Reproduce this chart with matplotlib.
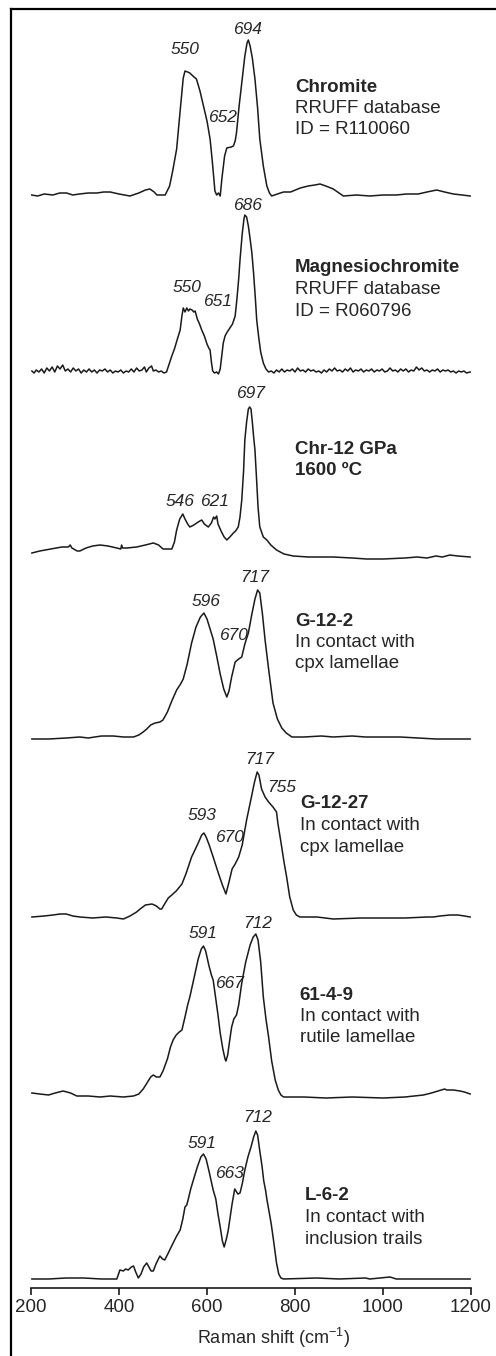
"""stacked Raman spectra of chromite samples."""

import matplotlib
import matplotlib.pyplot as plt
from matplotlib.lines import Line2D

matplotlib.use("Agg")

plt.rcParams["font.family"] = ["Liberation Sans", "DejaVu Sans"]
plt.rcParams["mathtext.fontset"] = "custom"
plt.rcParams["mathtext.rm"] = "Liberation Sans"

# spectra: Raman shift (cm-1) and intensity (arbitrary)
chromite_shift = [201, 215, 230, 250, 265, 281, 295, 310, 330, 350, 365, 380, 400, 425, 445, 460, 470, 480,
                  486, 505, 515, 522, 531, 540, 546, 550, 556, 561, 568, 576, 584, 592, 600, 607, 612, 618,
                  622, 626, 630, 634, 640, 645, 655, 660, 664, 667, 673, 679, 686, 691, 694, 698, 703, 709,
                  715, 720, 728, 736, 742, 747, 760, 774, 790, 812, 830, 845, 857, 870, 887, 900, 910, 940,
                  970, 1000, 1030, 1054, 1080, 1100, 1122, 1140, 1160, 1180, 1198]
chromite_int = [1, 0, 2, 1, 3, 3, 1, 2, 3, 3, 4, 4, 2, 0, 3, 6, 7, 4,
                1, 1, 10, 25, 47, 90, 118, 125, 124, 123, 120, 117, 105, 90, 75, 57, 35, 5,
                1, 3, 0, 18, 40, 48, 49, 50, 55, 63, 90, 113, 140, 153, 156, 150, 138, 117,
                88, 57, 30, 10, 3, 0, 2, 4, 4, 8, 10, 11, 12, 10, 7, 3, 0, 1,
                0, 1, 1, 2, 2, 4, 6, 4, 2, 1, 0]

magnesio_shift = [202, 207, 212, 218, 224, 230, 236, 242, 248, 254, 260, 266, 272, 278, 284, 290, 296, 302,
                  308, 314, 320, 326, 332, 338, 344, 350, 356, 362, 368, 374, 380, 386, 392, 398, 404, 410,
                  416, 422, 428, 434, 440, 446, 452, 458, 462, 468, 474, 478, 484, 490, 496, 502, 508, 514,
                  520, 526, 532, 539, 543, 546, 550, 554, 558, 561, 566, 570, 573, 578, 583, 588, 594, 600,
                  604, 607, 610, 613, 617, 622, 626, 630, 634, 637, 641, 646, 652, 658, 664, 668, 672, 675,
                  680, 684, 686, 690, 694, 698, 702, 706, 710, 713, 718, 722, 728, 734, 740, 746, 752, 758,
                  764, 770, 776, 782, 788, 794, 800, 806, 812, 818, 824, 830, 836, 842, 848, 854, 860, 866,
                  872, 878, 884, 890, 896, 902, 908, 914, 920, 926, 932, 938, 944, 950, 956, 962, 968, 974,
                  980, 986, 992, 998, 1004, 1010, 1016, 1022, 1028, 1034, 1040, 1046, 1052, 1058, 1064, 1070,
                  1076, 1082, 1088, 1094, 1100, 1106, 1112, 1118, 1124, 1130, 1136, 1142, 1148, 1154, 1160,
                  1166, 1172, 1178, 1184, 1190, 1198]
magnesio_int = [3, 1, 4, 2, 5, 1, 6, 3, 7, 2, 8, 5, 9, 3, 5, 2, 6, 3,
                5, 1, 4, 2, 5, 2, 4, 1, 4, 3, 5, 2, 4, 1, 3, 2, 4, 1,
                3, 2, 5, 2, 6, 3, 4, 7, 2, 6, 8, 3, 4, 2, 3, 1, 2, 10,
                18, 25, 34, 44, 58, 66, 62, 66, 63, 65, 64, 62, 63, 55, 50, 44, 38, 30,
                26, 24, 12, 3, 1, 2, 0, 5, 20, 31, 38, 42, 46, 50, 58, 75, 95, 114,
                140, 155, 159, 157, 148, 135, 121, 100, 75, 54, 35, 22, 11, 5, 2, 3, 1, 4,
                2, 5, 2, 4, 3, 5, 2, 6, 3, 4, 2, 5, 3, 4, 2, 3, 1, 4,
                2, 5, 3, 6, 3, 4, 2, 5, 3, 6, 2, 4, 3, 5, 2, 4, 3, 5,
                2, 4, 3, 5, 2, 3, 6, 3, 4, 2, 5, 3, 5, 2, 4, 3,
                7, 4, 6, 3, 4, 2, 4, 3, 5, 2, 4, 3, 4, 2, 3,
                1, 3, 2, 3, 1, 2]

chr12_shift = [202, 220, 245, 270, 285, 289, 293, 305, 311, 325, 340, 357, 375, 395, 404, 406, 408, 418,
               440, 460, 478, 490, 500, 520, 526, 531, 538, 545, 550, 556, 561, 570, 580, 588, 594, 603,
               610, 615, 618, 622, 625, 633, 639, 645, 652, 660, 665, 671, 675, 679, 683, 686, 690, 694,
               697, 700, 703, 706, 709, 713, 716, 720, 728, 736, 745, 758, 775, 796, 830, 887, 930, 963,
               1000, 1050, 1077, 1100, 1120, 1135, 1152, 1170, 1198]
chr12_int = [4, 6, 8, 10, 10, 12, 9, 6, 6, 9, 11, 12, 11, 9, 8, 12, 9, 9,
             10, 12, 14, 12, 8, 8, 15, 27, 38, 43, 38, 33, 30, 32, 35, 37, 33, 30,
             34, 40, 38, 41, 33, 25, 20, 17, 20, 24, 26, 30, 40, 57, 85, 117, 135, 148,
             150, 148, 135, 120, 107, 75, 50, 30, 20, 17, 12, 7, 3, 1, 0, 0, -1, -2,
             -2, -1, 0, -1, 1, 0, 2, 1, 0]

g122_shift = [202, 240, 280, 311, 330, 360, 387, 410, 433, 445, 455, 463, 472, 482, 493, 500, 510, 520,
              531, 540, 546, 555, 565, 575, 585, 593, 600, 607, 614, 622, 630, 638, 645, 650, 656, 664,
              672, 679, 686, 694, 702, 709, 715, 720, 726, 732, 740, 750, 760, 770, 780, 793, 820, 860,
              887, 930, 960, 1000, 1039, 1080, 1120, 1160, 1198]
g122_int = [0, 0, 1, 2, 1, 3, 3, 2, 2, 4, 7, 10, 14, 16, 17, 19, 27, 38,
            49, 55, 60, 75, 96, 112, 122, 126, 120, 110, 100, 83, 65, 50, 42, 48, 62, 77,
            80, 82, 95, 106, 125, 140, 149, 146, 125, 99, 70, 36, 20, 11, 6, 2, 2, 3,
            2, 3, 2, 2, 2, 1, 0, 0, 0]

g1227_shift = [202, 230, 250, 266, 280, 295, 311, 340, 370, 395, 410, 425, 440, 448, 460, 475, 485, 493,
               497, 505, 512, 520, 530, 543, 552, 565, 578, 588, 593, 598, 605, 614, 625, 635, 643, 650,
               657, 664, 672, 680, 690, 700, 708, 714, 718, 724, 732, 740, 750, 758, 761, 768, 775, 781,
               788, 796, 803, 811, 850, 887, 950, 1000, 1050, 1100, 1114, 1130, 1152, 1170, 1185, 1198]
g1227_int = [0, 1, 2, 3, 3, 1, 0, -1, 0, -1, -2, 1, 5, 8, 12, 13, 11, 8,
             8, 14, 19, 22, 26, 33, 43, 60, 72, 82, 84, 80, 72, 60, 45, 32, 23, 35,
             48, 53, 60, 72, 97, 118, 135, 145, 142, 128, 120, 115, 110, 105, 94, 75, 55, 40,
             20, 7, 2, 0, 0, -2, -1, -1, -1, 0, 0, 1, 2, 2, 1, 0]

s6149_shift = [202, 220, 240, 255, 273, 290, 304, 330, 357, 380, 410, 433, 445, 455, 465, 472, 478, 485,
               493, 500, 510, 517, 523, 530, 537, 543, 550, 556, 561, 570, 580, 587, 592, 597, 604, 610,
               614, 620, 625, 630, 636, 641, 643, 647, 652, 656, 661, 667, 672, 679, 688, 698, 705, 711,
               716, 722, 728, 734, 740, 747, 755, 762, 768, 774, 820, 870, 930, 1000, 1050, 1092, 1110,
               1125, 1140, 1145, 1160, 1175, 1185, 1198]
s6149_int = [4, 3, 2, 4, 6, 4, 1, 1, 0, 1, 0, 1, 3, 8, 15, 20, 22, 20,
             20, 26, 38, 50, 57, 62, 65, 67, 80, 92, 100, 118, 138, 148, 151, 146, 132, 122,
             117, 98, 82, 64, 48, 38, 36, 42, 58, 70, 78, 82, 92, 114, 135, 152, 160, 163,
             157, 135, 100, 78, 60, 36, 17, 7, 2, 0, 0, -1, 0, -1, 0, 2, 4,
             6, 8, 7, 7, 6, 5, 3]

l62_shift = [202, 240, 280, 320, 360, 395, 399, 402, 410, 415, 421, 428, 433, 438, 444, 450, 456, 463,
             468, 473, 478, 484, 493, 499, 504, 512, 523, 531, 539, 545, 550, 554, 557, 563, 569, 578,
             586, 592, 598, 605, 614, 620, 625, 630, 635, 639, 644, 648, 652, 657, 663, 666, 670, 675,
             680, 686, 693, 700, 706, 711, 715, 720, 725, 729, 733, 736, 740, 746, 752, 758, 763, 768,
             774, 850, 900, 960, 970, 1016, 1030, 1100, 1198]
l62_int = [0, 0, 1, 1, 0, 0, 5, 9, 8, 10, 9, 12, 13, 7, 1, 5, 12, 16,
           12, 8, 8, 15, 23, 20, 19, 26, 36, 43, 49, 60, 72, 74, 79, 90, 99, 112,
           122, 125, 120, 107, 89, 80, 65, 52, 38, 32, 40, 48, 60, 75, 90, 88, 85, 86,
           95, 109, 122, 132, 142, 148, 144, 128, 113, 98, 89, 80, 70, 55, 36, 16, 5, 1,
           0, 1, 0, 1, 0, 2, 0, 0, 0]

sample_titles = [
    ["Chromite"],
    ["Magnesiochromite"],
    ["Chr-12 GPa", "1600 ºC"],
    ["G-12-2"],
    ["G-12-27"],
    ["61-4-9"],
    ["L-6-2"],
]
sample_notes = [
    ["RRUFF database", "ID = R110060"],
    ["RRUFF database", "ID = R060796"],
    [],
    ["In contact with", "cpx lamellae"],
    ["In contact with", "cpx lamellae"],
    ["In contact with", "rutile lamellae"],
    ["In contact with", "inclusion trails"],
]
peak_labels = [
    ["550", "694", "652"],
    ["550", "686", "651"],
    ["546", "621", "697"],
    ["596", "670", "717"],
    ["593", "670", "717", "755"],
    ["591", "712", "667"],
    ["591", "712", "663"],
]

spectra = [
    (chromite_shift, chromite_int),
    (magnesio_shift, magnesio_int),
    (chr12_shift, chr12_int),
    (g122_shift, g122_int),
    (g1227_shift, g1227_int),
    (s6149_shift, s6149_int),
    (l62_shift, l62_int),
]

# layout: vertical offset of each trace, label anchors (data coords)
offsets = [1092, 914, 731, 549, 371, 191, 9]
title_pos = [(800, 1201), (800, 1020), (800, 839), (800, 667), (811, 484), (811, 293), (823, 92)]
line_step = 21.5
peak_pos = [
    [(550, 1238), (691, 1258), (634, 1171)],
    [(555, 1000), (691, 1083), (623, 986)],
    [(539, 786), (618, 786), (698, 895)],
    [(598, 686), (659, 653), (709, 710)],
    [(589, 472), (652, 451), (720, 528), (770, 500)],
    [(591, 354), (714, 365), (650, 305)],
    [(589, 144), (714, 171), (652, 115)],
]

W, H = 496, 1356
fig = plt.figure(figsize=(W / 100, H / 100), dpi=100)
ax = fig.add_axes([31 / W, 68 / H, 440 / W, 1278 / H])

line_color = "#1a1a1a"
text_color = "#262626"

for (shift, inten), off in zip(spectra, offsets):
    ax.plot(shift, [v + off for v in inten], color=line_color, linewidth=1.1)

for titles, notes, (tx, ty) in zip(sample_titles, sample_notes, title_pos):
    lines = [(t, "bold") for t in titles] + [(n, "normal") for n in notes]
    for k, (txt, weight) in enumerate(lines):
        ax.text(tx, ty - line_step * k, txt, fontsize=13.5, fontweight=weight, color=text_color,
                va="center", ha="left")

for labels, positions in zip(peak_labels, peak_pos):
    for lab, (px, py) in zip(labels, positions):
        ax.text(px, py, lab, fontsize=12.5, style="italic", color=text_color, va="center", ha="center")

ax.set_xlim(200, 1200)
ax.set_ylim(0, 1278)
ax.set_xticks([200, 400, 600, 800, 1000, 1200])
ax.set_yticks([])
for side in ["left", "right", "top"]:
    ax.spines[side].set_visible(False)
ax.spines["bottom"].set_linewidth(1.2)
ax.spines["bottom"].set_color(line_color)
ax.tick_params(axis="x", direction="out", length=5, width=1.2, color=line_color,
               labelsize=13.5, labelcolor=text_color, pad=3)
ax.patch.set_visible(False)

fig.text(273 / W, 1 - 1338 / H, r"Raman shift (cm$^{\mathregular{-1}}$)", fontsize=13, color=text_color,
         ha="center", va="center")

# outer frame (only top and left edges visible in the crop)
fig.add_artist(Line2D([10.5 / W, 10.5 / W], [0, 1 - 8.5 / H], transform=fig.transFigure,
                      color="black", linewidth=1.6))
fig.add_artist(Line2D([10.5 / W, 1], [1 - 8.5 / H, 1 - 8.5 / H], transform=fig.transFigure,
                      color="black", linewidth=1.6))

fig.savefig("out.png", dpi=100)
plt.close(fig)
